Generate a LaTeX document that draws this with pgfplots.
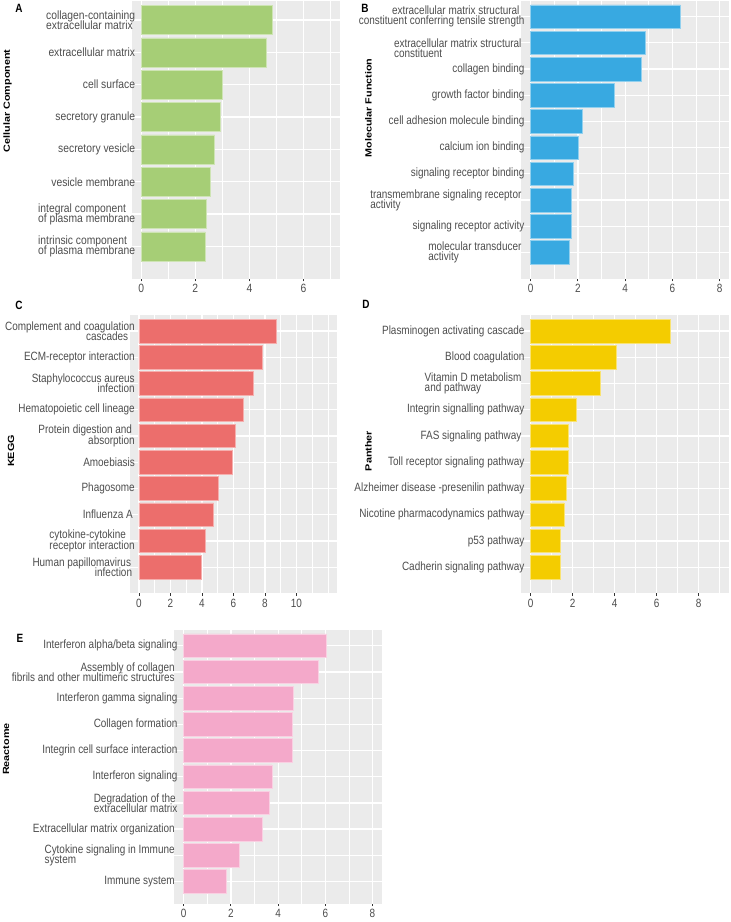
\documentclass[border=0pt]{standalone}
\usepackage{fontspec}
\setmainfont{Liberation Sans}
\newfontfamily\fa[FakeStretch=0.86]{Liberation Sans}
\newfontfamily\fb[FakeStretch=0.83]{Liberation Sans}
\usepackage{graphicx}
\usepackage{pgfplots}
\pgfplotsset{compat=1.18}
\definecolor{panelbg}{HTML}{EBEBEB}
\definecolor{txtgray}{HTML}{4D4D4D}
\definecolor{tickgray}{HTML}{333333}
\definecolor{cA}{HTML}{A6CE76}
\definecolor{cB}{HTML}{38A9E1}
\definecolor{cC}{HTML}{EC6E6C}
\definecolor{cD}{HTML}{F4CC00}
\definecolor{cE}{HTML}{F4A9CA}
\newcommand{\Ll}[2]{\vbox{\baselineskip=10.3pt\lineskiplimit=-20pt\lineskip=0pt\hbox{#1}\hbox{#2}}}
\newcommand{\Lr}[2]{\vbox{\baselineskip=10.3pt\lineskiplimit=-20pt\lineskip=0pt\halign{\hfil##\cr#1\cr#2\cr}}}
\newcommand{\YL}[1]{\scalebox{1}[0.83]{#1}}
\pgfplotsset{gg/.style={
  scale only axis, anchor=south west,
  axis background/.style={fill=panelbg},
  axis line style={draw=none},
  xbar, bar width=0.9,
  xmajorgrids, xminorgrids, ymajorgrids,
  major grid style={draw=white, line width=1.2pt},
  minor grid style={draw=white, line width=0.6pt},
  tick align=outside,
  xtick pos=left, ytick pos=left,
  major tick length=2.7pt, minor tick length=0pt,
  xtick style={draw=tickgray, line width=0.9pt},
  ytick style={draw=none},
  /pgf/number format/assume math mode=true,
  xticklabel style={font=\fb\fontsize{12}{14}\selectfont, text=txtgray, inner sep=0pt, anchor=north, yshift=-2.5pt},
  yticklabel style={font=\fb\fontsize{12}{14}\selectfont, text=txtgray, inner sep=0pt, anchor=east},
  ylabel style={font=\bfseries\fontsize{10.8}{12}\selectfont, text=black, anchor=center},
}}
\begin{document}
\begin{tikzpicture}
\path[use as bounding box] (0pt,0pt) rectangle (731pt,922pt);
% Panel A
\begin{axis}[gg, at={(131.7pt,643.2pt)}, width=208.3pt, height=278.2pt,
  xmin=-0.35, xmax=7.35, ymin=0, ymax=8.6,
  xtick={0,2,4,6}, minor xtick={1,3,5,7}, ytick={1,...,8},
  xticklabel style={font=\fa\fontsize{12}{14}\selectfont},
  yticklabel style={font=\fa\fontsize{12}{14}\selectfont, xshift=6.3pt},
  yticklabels={{\Ll{intrinsic component}{of plasma membrane}},{\Ll{integral component}{of plasma membrane}},vesicle membrane,secretory vesicle,secretory granule,cell surface,extracellular matrix,{\Ll{collagen-containing}{extracellular matrix}}},
  ylabel={\YL{Cellular Component}},
  ylabel style={at={(axis description cs:-0.596,0.6395)}}]
\addplot[fill=cA, draw=cA!55!white, line width=0.5pt] coordinates {(2.37,1) (2.39,2) (2.56,3) (2.72,4) (2.93,5) (2.98,6) (4.64,7) (4.83,8)};
\end{axis}
% Panel B
\begin{axis}[gg, at={(521.3pt,643.35pt)}, width=207.7pt, height=277.7pt,
  xmin=-0.4, xmax=8.4, ymin=0, ymax=10.6,
  xtick={0,2,4,6,8}, minor xtick={1,3,5,7}, ytick={1,...,10},
  yticklabel style={xshift=6pt},
  yticklabels={{\Ll{molecular transducer}{activity}\kern3pt},signaling receptor activity,{\Ll{transmembrane signaling receptor}{activity}\kern3pt},signaling receptor binding,calcium ion binding,cell adhesion molecule binding,growth factor binding,collagen binding,{\raisebox{-5.5pt}[\height][\depth]{\Ll{extracellular matrix structural}{constituent}}\kern3pt},{\Lr{extracellular matrix structural\kern5pt}{constituent conferring tensile strength}}},
  ylabel={\YL{Molecular Function}},
  ylabel style={at={(axis description cs:-0.7357,0.6147)}}]
\addplot[fill=cB, draw=cB!55!white, line width=0.5pt] coordinates {(1.64,1) (1.71,2) (1.72,3) (1.78,4) (2.03,5) (2.17,6) (3.53,7) (4.67,8) (4.87,9) (6.34,10)};
\end{axis}
% Panel C
\begin{axis}[gg, at={(129.55pt,328.6pt)}, width=207.9pt, height=278.2pt,
  xmin=-0.6, xmax=12.6, ymin=0, ymax=10.6,
  xtick={0,2,4,6,8,10}, minor xtick={1,3,5,7,9,11,12}, ytick={1,...,10},
  yticklabel style={xshift=8.1pt},
  yticklabels={{\Lr{Human papillomavirus\kern1pt}{infection}\kern2.7pt},{\Ll{cytokine-cytokine}{receptor interaction}},{Influenza A\kern2pt},Phagosome,Amoebiasis,{\Lr{Protein digestion and\kern2.7pt}{absorption}},Hematopoietic cell lineage,{\Lr{Staphylococcus aureus}{infection}},ECM-receptor interaction,{\Lr{Complement and coagulation}{cascades\kern6.6pt}}},
  ylabel={\YL{KEGG}},
  ylabel style={at={(axis description cs:-0.570,0.512)}}]
\addplot[fill=cC, draw=cC!55!white, line width=0.5pt] coordinates {(3.96,1) (4.21,2) (4.74,3) (5.02,4) (5.95,5) (6.10,6) (6.62,7) (7.24,8) (7.85,9) (8.74,10)};
\end{axis}
% Panel D
\begin{axis}[gg, at={(521.2pt,328.6pt)}, width=208pt, height=278.2pt,
  xmin=-0.45, xmax=9.45, ymin=0, ymax=10.6,
  xtick={0,2,4,6,8}, minor xtick={1,3,5,7,9}, ytick={1,...,10},
  yticklabel style={xshift=6.1pt},
  yticklabels={Cadherin signaling pathway,p53 pathway,Nicotine pharmacodynamics pathway,Alzheimer disease -presenilin pathway,Toll receptor signaling pathway,{FAS signaling pathway\kern3pt},Integrin signalling pathway,{\Ll{Vitamin D metabolism}{and pathway}\kern3pt},Blood coagulation,Plasminogen activating cascade},
  ylabel={\YL{Panther}},
  ylabel style={at={(axis description cs:-0.735,0.512)}}]
\addplot[fill=cD, draw=cD!55!white, line width=0.5pt] coordinates {(1.39,1) (1.41,2) (1.58,3) (1.69,4) (1.77,5) (1.80,6) (2.15,7) (3.33,8) (4.08,9) (6.63,10)};
\end{axis}
% Panel E
\begin{axis}[gg, at={(174.26pt,18.5pt)}, width=207.7pt, height=273.5pt,
  xmin=-0.4, xmax=8.4, ymin=0.16, ymax=10.6,
  xtick={0,2,4,6,8}, minor xtick={1,3,5,7}, ytick={1,...,10},
  yticklabel style={xshift=6pt},
  yticklabels={{Immune system\kern2.7pt},{\Ll{Cytokine signaling in Immune}{system}\kern2.7pt},{Extracellular matrix organization\kern2.7pt},{\Ll{Degradation of the}{extracellular matrix}},Interferon signaling,Integrin cell surface interaction,Collagen formation,Interferon gamma signaling,{\Lr{Assembly of collagen}{fibrils and other multimeric structures}\kern2.7pt},Interferon alpha/beta signaling},
  ylabel={\YL{Reactome}},
  ylabel style={at={(axis description cs:-0.810,0.5647)}}]
\addplot[fill=cE, draw=cE!55!white, line width=0.5pt] coordinates {(1.79,1) (2.37,2) (3.33,3) (3.63,4) (3.74,5) (4.58,6) (4.62,7) (4.66,8) (5.72,9) (6.03,10)};
\end{axis}
% panel letters
\begin{scope}[every node/.style={font=\fb\bfseries\fontsize{12}{14}\selectfont, text=black, inner sep=0pt, anchor=center}]
\node at (19pt,913.5pt) {A};
\node at (365pt,913.5pt) {B};
\node at (19pt,617pt) {C};
\node at (366pt,618pt) {D};
\node at (20pt,284pt) {E};
\end{scope}
\end{tikzpicture}
\end{document}
